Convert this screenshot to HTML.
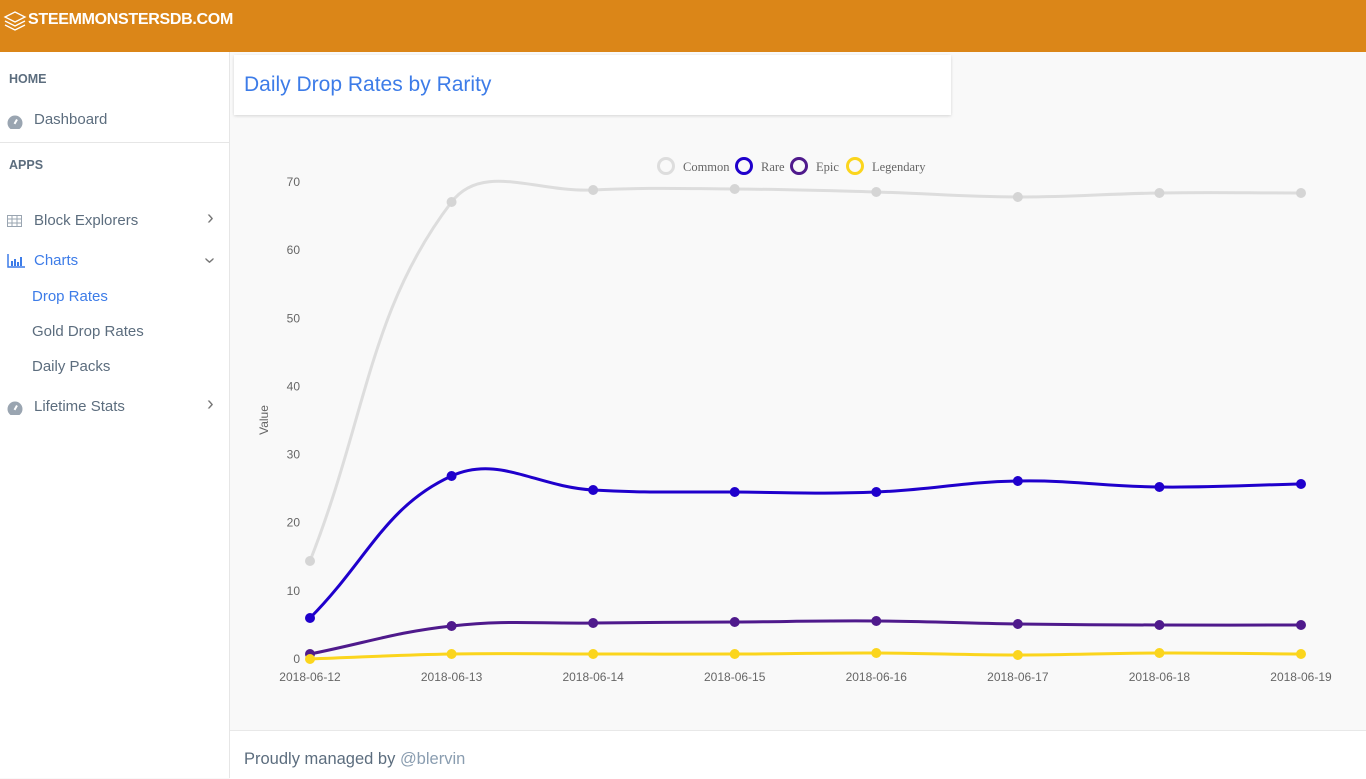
<!DOCTYPE html>
<html><head><meta charset="utf-8"><style>
body{margin:0;width:1366px;height:778px;overflow:hidden;background:#f9f9f9;font-family:"Liberation Sans",sans-serif;position:relative}
.top{position:absolute;left:0;top:0;width:1366px;height:52px;background:#db8618}
.logo{position:absolute;left:28px;top:11px;color:#fff;font-weight:bold;font-size:16px;letter-spacing:-0.3px}
.side{position:absolute;left:0;top:52px;width:229px;height:726px;background:#fff;border-right:1px solid #e6e6e6}
.side div{position:absolute;font-size:15px;color:#5c6d7e}
.hdr{font-size:12.5px!important;font-weight:bold;color:#5c6d7e}
.chev{font-size:20px!important;color:#777!important}
.card{position:absolute;left:234px;top:55px;width:717px;height:60px;background:#fff;box-shadow:0 1px 3px rgba(0,0,0,.15)}
.card span{position:absolute;left:10px;top:18px;font-size:21px;color:#3d7ce8}
.foot{position:absolute;left:230px;top:730px;width:1136px;height:48px;background:#fff;border-top:1px solid #e8e8e8}
.foot span{position:absolute;left:14px;top:19px;font-size:16.5px;color:#5c6d7e}
</style></head><body>
<div class="top"><svg style="position:absolute;left:3px;top:9px" width="24" height="24" viewBox="0 0 24 24" fill="none" stroke="#fff" stroke-width="1.3"><path d="M2 8 L12 3 L22 8 L12 13 Z"/><path d="M2 12 L12 17 L22 12"/><path d="M2 16 L12 21 L22 16"/></svg><div class="logo">STEEMMONSTERSDB.COM</div></div>
<div class="side">
<div class="hdr" style="left:9px;top:20px">HOME</div>
<svg style="position:absolute;left:7px;top:63px" width="16" height="14" viewBox="0 0 16 14"><circle cx="8" cy="8" r="7.5" fill="#9aa5b1"/><rect x="7" y="4" width="2" height="5" fill="#fff" transform="rotate(30 8 8)"/></svg>
<div style="left:34px;top:59px">Dashboard</div>
<div style="left:0;top:90px;width:229px;height:1px;background:#e6e6e6"></div>
<div class="hdr" style="left:9px;top:106px">APPS</div>
<svg style="position:absolute;left:7px;top:163px" width="15" height="12"><rect x="0.5" y="0.5" width="14" height="11" fill="none" stroke="#9aa5b1"/><path d="M0 4h15M0 8h15M5 0v12M10 0v12" stroke="#9aa5b1"/></svg>
<div style="left:34px;top:160px">Block Explorers</div><div class="chev" style="left:207px;top:155px">›</div>
<svg style="position:absolute;left:7px;top:202px" width="18" height="14"><path d="M1 0v13h17" stroke="#3d7ce8" fill="none" stroke-width="1.5"/><path d="M5 7v5M8 5v7M11 8v4M14 3v9" stroke="#3d7ce8" stroke-width="2"/></svg>
<div style="left:34px;top:200px;color:#3d7ce8">Charts</div><div class="chev" style="left:206px;top:197px;transform:rotate(90deg)">›</div>
<div style="left:32px;top:236px;color:#3d7ce8">Drop Rates</div>
<div style="left:32px;top:271px">Gold Drop Rates</div>
<div style="left:32px;top:306px">Daily Packs</div>
<svg style="position:absolute;left:7px;top:349px" width="16" height="14" viewBox="0 0 16 14"><circle cx="8" cy="8" r="7.5" fill="#9aa5b1"/><rect x="7" y="4" width="2" height="5" fill="#fff" transform="rotate(30 8 8)"/></svg>
<div style="left:34px;top:346px">Lifetime Stats</div><div class="chev" style="left:207px;top:341px">›</div>
</div>
<div class="card"><span>Daily Drop Rates by Rarity</span></div>
<svg id="c" style="position:absolute;left:0;top:0" width="1366" height="778" font-family="Liberation Sans" font-size="12" fill="#666"></svg>
<div class="foot"><span>Proudly managed by <span style="position:static;color:#8a9db0">@blervin</span></span></div>
<script>
var s='',xs=[],i;for(i=0;i<8;i++)xs.push(310+i*141.57);
[0,10,20,30,40,50,60,70].forEach(function(v){var y=659-v*6.814;s+='<text x="300" y="'+(y+4)+'" text-anchor="end" font-size="12">'+v+'</text>';});
for(i=0;i<8;i++)s+='<text x="'+xs[i]+'" y="681" text-anchor="middle">2018-06-1'+(2+i)+'</text>';
s+='<text transform="translate(268,420) rotate(-90)" text-anchor="middle" font-size="12">Value</text>';
var L=[['Common','#dddddd',658],['Rare','#1f00cc',736],['Epic','#4f1a8c',791],['Legendary','#fbd51d',847]];
L.forEach(function(l){s+='<circle cx="'+(l[2]+8)+'" cy="166" r="7.5" fill="none" stroke="'+l[1]+'" stroke-width="3"/><text x="'+(l[2]+25)+'" y="171" font-family="Liberation Serif" font-size="12.5" fill="#666">'+l[0]+'</text>';});
var D=[['#dddddd',[561,202,190,189,192,197,193,193]],['#1f00cc',[618,476,490,492,492,481,487,484]],['#4f1a8c',[654,626,623,622,621,624,625,625]],['#fbd51d',[659,654,654,654,653,655,653,654]]];
function cps(p){var t=0.4,out=[];for(var k=0;k<8;k++){var pk=k?k-1:k,nk=k<7?k+1:k;
var d01=Math.hypot(xs[k]-xs[pk],p[k]-p[pk]),d12=Math.hypot(xs[nk]-xs[k],p[nk]-p[k]);
var s01=d01/(d01+d12)||0,s12=d12/(d01+d12)||0,fa=t*s01,fb=t*s12;
out.push({px:xs[k]-fa*(xs[nk]-xs[pk]),py:p[k]-fa*(p[nk]-p[pk]),nx:xs[k]+fb*(xs[nk]-xs[pk]),ny:p[k]+fb*(p[nk]-p[pk])});}return out;}
D.forEach(function(d){var p=d[1],c=cps(p),path='M'+xs[0]+' '+p[0];
for(i=0;i<7;i++)path+=' C'+c[i].nx+' '+c[i].ny+' '+c[i+1].px+' '+c[i+1].py+' '+xs[i+1]+' '+p[i+1];
s+='<path d="'+path+'" fill="none" stroke="'+d[0]+'" stroke-width="3"/>';
for(i=0;i<8;i++)s+='<circle cx="'+xs[i]+'" cy="'+p[i]+'" r="5" fill="'+(d[0]=='#dddddd'?'#d5d5d5':d[0])+'"/>';});
document.getElementById('c').innerHTML=s;
</script>
</body></html>
